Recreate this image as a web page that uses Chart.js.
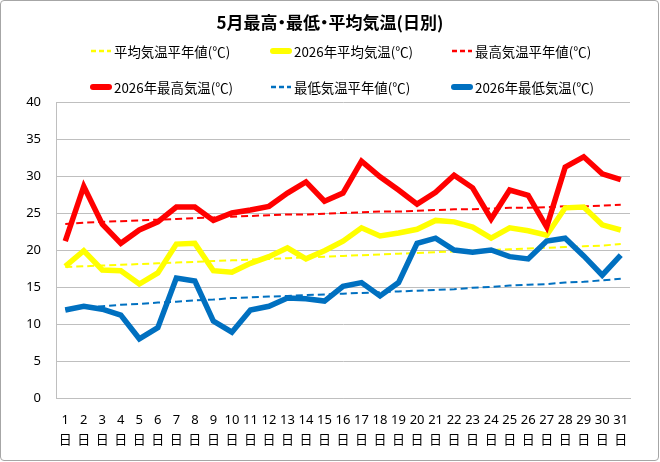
<!DOCTYPE html>
<html>
<head>
<meta charset="utf-8">
<script src="https://cdn.jsdelivr.net/npm/chart.js@4.4.1/dist/chart.umd.min.js"></script>
<style>
    html, body { margin: 0; padding: 0; background: #fff; }
    #wrap { position: relative; width: 660px; height: 462px; overflow: hidden; font-family: "Noto Sans CJK JP", sans-serif; }
    #frame { position: absolute; left: 0; top: 0; width: 657px; height: 459px; border: 1px solid #a6a6a6; border-radius: 4px; pointer-events: none; }
    #title { position: absolute; left: 0; top: 10px; width: 660px; text-align: center; font-size: 17px; font-weight: bold; line-height: 24px; font-feature-settings: "palt"; }
    .lg { position: absolute; height: 20px; display: flex; align-items: center; font-size: 13.4px; white-space: nowrap; color: #000; }
    .lg svg { margin-right: 2px; }
    canvas { position: absolute; left: 0; top: 0; }
</style>
</head>
<body>
<div id="wrap">
    <canvas id="tempChart" width="660" height="462"></canvas>
    <div id="title">5月最高・最低・平均気温(日別)</div>
    <div id="legend"></div>
    <div id="frame"></div>
</div>
<script>
// ====== Data ======
const days = ['1','2','3','4','5','6','7','8','9','10','11','12','13','14','15','16',
              '17','18','19','20','21','22','23','24','25','26','27','28','29','30','31'];
const yTicks = [0, 5, 10, 15, 20, 25, 30, 35, 40];

const maxTemp = [21.2, 28.6, 23.5, 20.9, 22.7, 23.8, 25.8, 25.8, 24.0, 25.0, 25.4, 25.9, 27.7, 29.2, 26.6, 27.7,
                 32.0, 29.9, 28.1, 26.2, 27.8, 30.1, 28.4, 24.2, 28.1, 27.4, 23.1, 31.2, 32.6, 30.3, 29.5];
const avgTemp = [17.8, 19.9, 17.3, 17.2, 15.4, 16.9, 20.8, 20.9, 17.2, 17.0, 18.2, 19.1, 20.3, 18.8, 19.9, 21.2,
                 23.0, 21.9, 22.3, 22.8, 24.0, 23.8, 23.1, 21.6, 23.0, 22.6, 22.0, 25.7, 25.8, 23.4, 22.7];
const minTemp = [11.9, 12.4, 12.0, 11.2, 8.0, 9.5, 16.2, 15.8, 10.4, 8.9, 11.9, 12.4, 13.5, 13.4, 13.1, 15.1,
                 15.6, 13.8, 15.6, 20.9, 21.6, 20.0, 19.7, 20.0, 19.1, 18.8, 21.2, 21.6, 19.2, 16.6, 19.3];

const maxNormal = [23.5, 23.7, 23.8, 23.9, 24.0, 24.1, 24.2, 24.3, 24.4, 24.5, 24.6, 24.7, 24.8, 24.8, 24.9, 25.0,
                   25.1, 25.2, 25.2, 25.3, 25.4, 25.5, 25.5, 25.6, 25.7, 25.7, 25.8, 25.9, 25.9, 26.0, 26.1];
const avgNormal = [17.7, 17.8, 17.9, 18.0, 18.1, 18.2, 18.3, 18.4, 18.5, 18.6, 18.7, 18.8, 18.9, 19.0, 19.1, 19.2,
                   19.3, 19.4, 19.5, 19.6, 19.7, 19.8, 19.9, 20.0, 20.1, 20.2, 20.3, 20.4, 20.5, 20.6, 20.8];
const minNormal = [12.0, 12.2, 12.4, 12.6, 12.7, 12.9, 13.0, 13.2, 13.3, 13.5, 13.6, 13.7, 13.8, 13.9, 14.0, 14.1,
                   14.2, 14.3, 14.4, 14.5, 14.6, 14.7, 14.9, 15.0, 15.2, 15.3, 15.4, 15.6, 15.7, 15.9, 16.1];

const RED = '#FF0000', YELLOW = '#FFFF00', BLUE = '#0070C0';
const FONT = '"Noto Sans", "Noto Sans CJK JP", sans-serif';

// ====== Legend (HTML, Excel-like 3x2 grid) ======
const legendItems = [
    { label: '平均気温平年値(℃)', color: YELLOW, dashed: true,  col: 0, row: 0 },
    { label: '2026年平均気温(℃)',  color: YELLOW, dashed: false, col: 1, row: 0 },
    { label: '最高気温平年値(℃)', color: RED,    dashed: true,  col: 2, row: 0 },
    { label: '2026年最高気温(℃)',  color: RED,    dashed: false, col: 0, row: 1 },
    { label: '最低気温平年値(℃)', color: BLUE,   dashed: true,  col: 1, row: 1 },
    { label: '2026年最低気温(℃)',  color: BLUE,   dashed: false, col: 2, row: 1 }
];
const colX = [90, 270, 451];
const rowY = [51, 87];
const legendBox = document.getElementById('legend');
legendItems.forEach(it => {
    const d = document.createElement('div');
    d.className = 'lg';
    d.style.left = colX[it.col] + 'px';
    d.style.top = (rowY[it.row] - 10) + 'px';
    const line = it.dashed
        ? `<line x1="1" y1="5" x2="21" y2="5" stroke="${it.color}" stroke-width="2.5" stroke-dasharray="5,3"/>`
        : `<line x1="3" y1="5" x2="19" y2="5" stroke="${it.color}" stroke-width="6" stroke-linecap="round"/>`;
    d.innerHTML = `<svg width="22" height="10">${line}</svg><span>${it.label}</span>`;
    legendBox.appendChild(d);
});

// ====== Chart ======
(function () {
    const ctx = document.getElementById('tempChart');
    const thick = (data, color) => ({
        data, borderColor: color, backgroundColor: color, borderWidth: 5.5,
        pointRadius: 0, tension: 0, fill: false
    });
    const dashed = (data, color) => ({
        data, borderColor: color, backgroundColor: color, borderWidth: 2,
        borderDash: [7, 4], pointRadius: 0, tension: 0, fill: false
    });
    new Chart(ctx, {
        type: 'line',
        data: {
            labels: days.map(d => [d, '日']),
            datasets: [
                thick(minTemp, BLUE),
                thick(maxTemp, RED),
                thick(avgTemp, YELLOW),
                dashed(minNormal, BLUE),
                dashed(maxNormal, RED),
                dashed(avgNormal, YELLOW)
            ]
        },
        options: {
            responsive: false,
            animation: false,
            layout: { padding: { top: 102, right: 30, left: 0, bottom: 0 } },
            plugins: {
                legend: { display: false },
                title: { display: false },
                tooltip: { enabled: false }
            },
            scales: {
                x: {
                    offset: true,
                    grid: { display: false, drawTicks: false },
                    border: { color: '#bfbfbf', width: 1 },
                    ticks: {
                        autoSkip: false, maxRotation: 0, minRotation: 0, padding: 12, color: '#000',
                        font: { family: FONT, size: 13, lineHeight: '20px' }
                    },
                    afterFit: s => { s.height = 64; }
                },
                y: {
                    min: yTicks[0],
                    max: yTicks[yTicks.length - 1],
                    afterBuildTicks: s => { s.ticks = yTicks.map(v => ({ value: v })); },
                    grid: { color: '#bfbfbf', drawTicks: false },
                    border: { color: '#bfbfbf', width: 1 },
                    ticks: { padding: 15, color: '#000', font: { family: FONT, size: 13 } },
                    afterFit: s => { s.width = 56; }
                }
            }
        }
    });
})();
</script>
</body>
</html>
